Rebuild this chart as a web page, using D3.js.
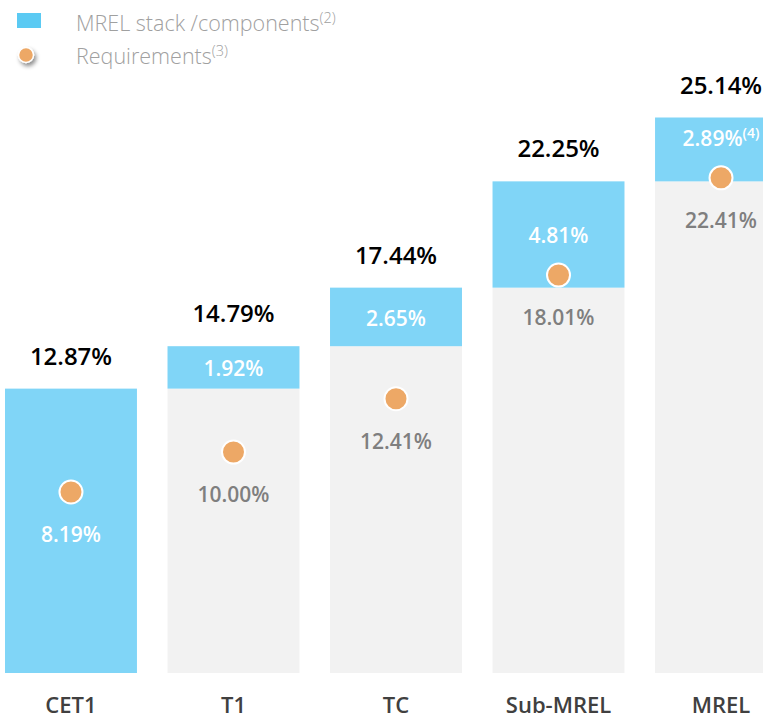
<!DOCTYPE html>
<html>
<head>
<meta charset="utf-8">
<script src="https://cdn.jsdelivr.net/npm/d3@7"></script>
<style>
  html, body { margin: 0; padding: 0; background: #ffffff; }
  svg { display: block; font-family: "Open Sans", "Noto Sans", sans-serif; }
</style>
</head>
<body>
<svg id="chart" width="763" height="719"></svg>
<script>
// Capital stack building up to MREL, with requirement markers
const categories   = ["CET1", "T1", "TC", "Sub-MREL", "MREL"];
const stackTotals  = [12.87, 14.79, 17.44, 22.25, 25.14];
const components   = [12.87, 1.92, 2.65, 4.81, 2.89];
const componentLabels = ["", "1.92%", "2.65%", "4.81%", "2.89%"];
const componentNotes  = ["", "", "", "", "(4)"];
const requirements = [8.19, 10.00, 12.41, 18.01, 22.41];

const BLUE = "#80d5f7";
const GREY = "#f2f2f2";
const ORANGE = "#eda866";
const FONT = "\"Open Sans\", \"Noto Sans\", sans-serif";

const svg = d3.select("#chart");

// the last bar runs past the right edge of the canvas
const x = d3.scaleBand()
  .domain(categories)
  .range([5, 787])
  .paddingInner(0.188)
  .paddingOuter(0);

const y = d3.scaleLinear()
  .domain([0, 25.14])
  .range([673, 117.5]);

const rows = categories.map((c, i) => ({
  cat: c,
  total: stackTotals[i],
  comp: components[i],
  base: stackTotals[i] - components[i],
  label: componentLabels[i],
  note: componentNotes[i],
  req: requirements[i]
}));

const cx = d => x(d.cat) + x.bandwidth() / 2;
const g = svg.append("g");

// grey base: everything below this step's component
g.selectAll("rect.base").data(rows.filter(d => d.base > 0.001)).join("rect")
  .attr("class", "base")
  .attr("x", d => x(d.cat))
  .attr("width", x.bandwidth())
  .attr("y", d => y(d.base))
  .attr("height", d => y(0) - y(d.base))
  .attr("fill", GREY);

// blue component segment
g.selectAll("rect.comp").data(rows).join("rect")
  .attr("class", "comp")
  .attr("x", d => x(d.cat))
  .attr("width", x.bandwidth())
  .attr("y", d => y(d.total))
  .attr("height", d => y(d.base) - y(d.total))
  .attr("fill", BLUE);

// totals above each bar
g.selectAll("text.total").data(rows).join("text")
  .attr("class", "total")
  .attr("x", cx)
  .attr("y", d => y(d.total) - 24)
  .attr("text-anchor", "middle")
  .attr("font-size", 24)
  .attr("font-weight", 600)
  .attr("fill", "#000")
  .text(d => d3.format(".2f")(d.total) + "%");

// component labels inside the blue segment
const compLab = g.selectAll("text.comp").data(rows.filter(d => d.label)).join("text")
  .attr("class", "comp")
  .attr("x", cx)
  .attr("y", d => {
    const mid = (y(d.total) + y(d.base)) / 2;
    const clash = Math.abs(y(d.req) - mid) < 30;
    return clash ? y(d.total) + 28 : mid + 9;
  })
  .attr("text-anchor", "middle")
  .attr("font-size", 21)
  .attr("font-weight", 600)
  .attr("fill", "#ffffff");
compLab.append("tspan").text(d => d.label);
compLab.append("tspan")
  .attr("font-size", 14)
  .attr("dy", -8)
  .text(d => d.note);

// requirement markers
g.selectAll("circle.req").data(rows).join("circle")
  .attr("class", "req")
  .attr("cx", cx)
  .attr("cy", d => y(d.req))
  .attr("r", 11.5)
  .attr("fill", ORANGE)
  .attr("stroke", "#ffffff")
  .attr("stroke-width", 2);

g.selectAll("text.req").data(rows).join("text")
  .attr("class", "req")
  .attr("x", cx)
  .attr("y", d => y(d.req) + 50)
  .attr("text-anchor", "middle")
  .attr("font-size", 21)
  .attr("font-weight", 600)
  .attr("fill", d => d.base > 0.001 ? "#7f7f7f" : "#ffffff")
  .text(d => d3.format(".2f")(d.req) + "%");

// category axis
const axis = g.append("g")
  .attr("transform", `translate(0, ${y(0)})`)
  .call(d3.axisBottom(x).tickSize(0).tickPadding(24));
axis.select(".domain").remove();
axis.selectAll("text")
  .attr("font-family", FONT)
  .attr("font-size", 22)
  .attr("font-weight", 600)
  .attr("fill", "#404040");

// legend
const defs = svg.append("defs");
const f = defs.append("filter").attr("id", "dotShadow")
  .attr("x", "-60%").attr("y", "-60%").attr("width", "240%").attr("height", "240%");
f.append("feDropShadow")
  .attr("dx", 2).attr("dy", 3).attr("stdDeviation", 2)
  .attr("flood-color", "#000").attr("flood-opacity", 0.45);

const legend = svg.append("g");
legend.append("rect")
  .attr("x", 17).attr("y", 13).attr("width", 24).attr("height", 15)
  .attr("fill", "#5bcaf3");
legend.append("circle")
  .attr("cx", 26).attr("cy", 55).attr("r", 7.5)
  .attr("fill", ORANGE).attr("stroke", "#fff").attr("stroke-width", 1.5)
  .attr("filter", "url(#dotShadow)");

const legendItems = [
  { text: "MREL stack /components", note: "(2)", y: 31 },
  { text: "Requirements", note: "(3)", y: 64 }
];
legendItems.forEach(it => {
  const t = legend.append("text")
    .attr("x", 76).attr("y", it.y)
    .attr("font-size", 21.5)
    .attr("font-weight", 300)
    .attr("fill", "#a0a0a0");
  t.append("tspan").text(it.text);
  t.append("tspan").attr("font-size", 14.5).attr("dy", -8).text(it.note);
});
</script>
</body>
</html>
